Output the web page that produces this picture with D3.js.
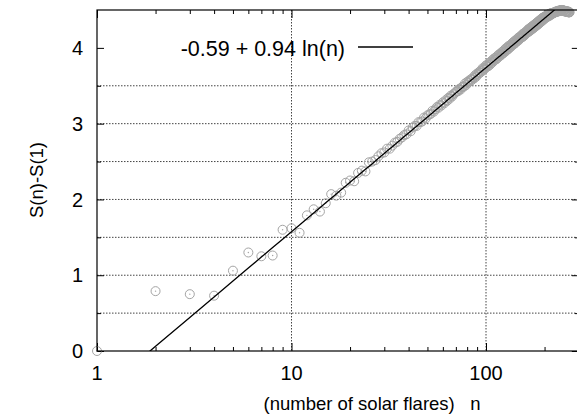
<!DOCTYPE html>
<html>
<head>
  <script src="https://d3js.org/d3.v7.min.js"></script>
  <style>
    body { margin: 0; background: #fff; }
    #chart { width: 577px; height: 418px; }
    text { font-family: "Liberation Sans", Arial, Helvetica, sans-serif; fill: #000; }
    .tickLabel { font-size: 20px; }
    .keyLabel { font-size: 21.5px; }
    .axisLabel { font-size: 18.5px; white-space: pre; }
    .grid { stroke: #444; stroke-width: 1; stroke-dasharray: 1.5,1.5; }
  </style>
</head>
<body>
  <div id="chart"></div>
  <script>
    /*
    DATA: S(n)-S(1) against the number of solar flares n
    */
    const firstPoints = [0, 0.79, 0.75, 0.73, 1.06, 1.30, 1.25, 1.26, 1.60, 1.62,
                         1.56, 1.79, 1.87, 1.84, 1.95, 2.07, 2.05, 2.09, 2.22, 2.25,
                         2.24, 2.35, 2.38, 2.37, 2.49, 2.50, 2.52];
    const densePoints = [
      2.57, 2.61, 2.62, 2.67, 2.67, 2.71, 2.75, 2.76, 2.80, 2.82, 2.85, 2.86,
      2.91, 2.90, 2.95, 2.97, 2.97, 3.02, 3.02, 3.03, 3.08, 3.07,
      3.11, 3.12, 3.13, 3.17, 3.16, 3.19, 3.22, 3.21, 3.25, 3.24,
      3.28, 3.27, 3.31, 3.30, 3.34, 3.33, 3.37, 3.36, 3.39, 3.40,
      3.42, 3.43, 3.43, 3.46, 3.45, 3.48, 3.49, 3.49, 3.53, 3.51,
      3.55, 3.54, 3.57, 3.56, 3.59, 3.58, 3.61, 3.60, 3.64, 3.62,
      3.66, 3.65, 3.68, 3.67, 3.70, 3.69, 3.73, 3.71, 3.74, 3.73,
      3.77, 3.75, 3.78, 3.76, 3.80, 3.78, 3.82, 3.80, 3.84, 3.82,
      3.86, 3.84, 3.87, 3.85, 3.89, 3.87, 3.91, 3.89, 3.92, 3.90,
      3.94, 3.92, 3.95, 3.93, 3.97, 3.95, 3.99, 3.96, 4.00, 3.98,
      4.02, 3.99, 4.03, 4.01, 4.04, 4.02, 4.06, 4.04, 4.07, 4.05,
      4.09, 4.06, 4.10, 4.08, 4.11, 4.09, 4.13, 4.10, 4.14, 4.12,
      4.15, 4.13, 4.16, 4.14, 4.18, 4.15, 4.19, 4.16, 4.20, 4.18,
      4.21, 4.19, 4.22, 4.20, 4.24, 4.21, 4.25, 4.22, 4.26, 4.23,
      4.27, 4.24, 4.28, 4.25, 4.29, 4.26, 4.30, 4.27, 4.31, 4.28,
      4.32, 4.29, 4.33, 4.30, 4.34, 4.31, 4.35, 4.32, 4.36, 4.33,
      4.37, 4.34, 4.38, 4.35, 4.39, 4.36, 4.40, 4.37, 4.40, 4.38,
      4.41, 4.39, 4.42, 4.40, 4.42, 4.41, 4.43, 4.41, 4.44, 4.42,
      4.44, 4.42, 4.45, 4.43, 4.45, 4.44, 4.46, 4.44, 4.46, 4.45,
      4.46, 4.46, 4.46, 4.46, 4.47, 4.47, 4.47, 4.47, 4.47, 4.48,
      4.48, 4.48, 4.48, 4.48, 4.48, 4.49, 4.49, 4.49, 4.49, 4.49,
      4.49, 4.49, 4.49, 4.50, 4.50, 4.50, 4.50, 4.50, 4.49, 4.49,
      4.49, 4.49, 4.49, 4.49, 4.49, 4.48, 4.48, 4.48, 4.48, 4.48,
      4.48, 4.48, 4.48, 4.48, 4.48, 4.47, 4.47, 4.47, 4.47, 4.47
    ];
    const values = firstPoints.concat(densePoints);
    const points = values.map(function(v, i) { return {n: i + 1, s: v}; });

    // fit: a + b ln(n)
    const fitA = -0.59;
    const fitB = 0.94;
    const fitLabel = "-0.59 + 0.94 ln(n)";

    const xTickLabels = [1, 10, 100];
    const xMinorTicks = [2, 3, 4, 5, 6, 7, 8, 9, 20, 30, 40, 50, 60, 70, 80, 90, 200];
    const yTickLabels = [0, 1, 2, 3, 4];
    const yMinorTicks = [0.5, 1.5, 2.5, 3.5];
    const xGrid = [10, 100];
    const yGrid = [0.5, 1, 1.5, 2, 2.5, 3, 3.5];

    /*
    SVG + SCALES
    */
    const width = 577, height = 418;
    const svg = d3.select("#chart").append("svg")
      .attr("width", width)
      .attr("height", height);

    const plotLeft = 97, plotTop = 10, plotBottom = 351;
    const decade = 194.5;
    const xScale = d3.scaleLog()
      .domain([1, 300])
      .range([plotLeft, plotLeft + Math.log10(300) * decade]);
    const plotRight = xScale(300);

    const yScale = d3.scaleLinear()
      .domain([0, 4.5])
      .range([plotBottom, plotTop]);

    /*
    GRID
    */
    svg.selectAll(".hgrid").data(yGrid).enter().append("line")
      .attr("class", "grid")
      .attr("x1", plotLeft).attr("x2", plotRight)
      .attr("y1", function(d) { return yScale(d); })
      .attr("y2", function(d) { return yScale(d); });

    svg.selectAll(".vgrid").data(xGrid).enter().append("line")
      .attr("class", "grid")
      .attr("y1", plotTop).attr("y2", plotBottom)
      .attr("x1", function(d) { return xScale(d); })
      .attr("x2", function(d) { return xScale(d); });

    /*
    TICKS (inward, on all four sides)
    */
    function noDomain(g) { g.select(".domain").remove(); g.selectAll("line").attr("stroke", "#000"); }

    svg.append("g").attr("transform", `translate(0,${plotBottom})`)
      .call(d3.axisBottom(xScale).tickValues(xMinorTicks).tickSize(-4).tickFormat(""))
      .call(noDomain);
    svg.append("g").attr("transform", `translate(0,${plotBottom})`)
      .call(d3.axisBottom(xScale).tickValues(xTickLabels).tickSize(-8).tickFormat(""))
      .call(noDomain);
    svg.append("g").attr("transform", `translate(0,${plotTop})`)
      .call(d3.axisTop(xScale).tickValues(xMinorTicks).tickSize(-4).tickFormat(""))
      .call(noDomain);
    svg.append("g").attr("transform", `translate(0,${plotTop})`)
      .call(d3.axisTop(xScale).tickValues(xTickLabels).tickSize(-8).tickFormat(""))
      .call(noDomain);

    svg.append("g").attr("transform", `translate(${plotLeft},0)`)
      .call(d3.axisLeft(yScale).tickValues(yTickLabels).tickSize(-7).tickFormat(""))
      .call(noDomain);
    svg.append("g").attr("transform", `translate(${plotLeft},0)`)
      .call(d3.axisLeft(yScale).tickValues(yMinorTicks).tickSize(-4).tickFormat(""))
      .call(noDomain);
    svg.append("g").attr("transform", `translate(${plotRight},0)`)
      .call(d3.axisRight(yScale).tickValues(yTickLabels).tickSize(-7).tickFormat(""))
      .call(noDomain);
    svg.append("g").attr("transform", `translate(${plotRight},0)`)
      .call(d3.axisRight(yScale).tickValues(yMinorTicks).tickSize(-4).tickFormat(""))
      .call(noDomain);

    /*
    TICK LABELS
    */
    svg.selectAll(".xlab").data(xTickLabels).enter().append("text")
      .attr("class", "tickLabel")
      .attr("x", function(d) { return xScale(d); })
      .attr("y", 380)
      .attr("text-anchor", "middle")
      .text(function(d) { return d; });

    svg.selectAll(".ylab").data(yTickLabels).enter().append("text")
      .attr("class", "tickLabel")
      .attr("x", 83)
      .attr("y", function(d) { return yScale(d); })
      .attr("dy", "0.36em")
      .attr("text-anchor", "end")
      .text(function(d) { return d; });

    /*
    AXIS LABELS
    */
    svg.append("text")
      .attr("class", "axisLabel")
      .attr("x", 372)
      .attr("y", 410)
      .attr("text-anchor", "middle")
      .text("(number of solar flares)   n");

    svg.append("text")
      .attr("class", "axisLabel")
      .attr("transform", "rotate(-90)")
      .attr("x", -180)
      .attr("y", 43)
      .attr("text-anchor", "middle")
      .text("S(n)-S(1)");

    /*
    FIT LINE (clipped to the plot box)
    */
    svg.append("clipPath").attr("id", "box")
      .append("rect")
      .attr("x", plotLeft).attr("y", plotTop)
      .attr("width", plotRight - plotLeft).attr("height", plotBottom - plotTop);

    const fitN = d3.range(1, 301);
    const fitLine = d3.line()
      .x(function(n) { return xScale(n); })
      .y(function(n) { return yScale(fitA + fitB * Math.log(n)); });

    /*
    DATA POINTS
    */
    const pts = svg.append("g");
    pts.selectAll("circle.ring").data(points).enter().append("circle")
      .attr("class", "ring")
      .attr("cx", function(d) { return xScale(d.n); })
      .attr("cy", function(d) { return yScale(d.s); })
      .attr("r", 4.5)
      .attr("fill", "none")
      .attr("stroke", "#a4a4a4")
      .attr("stroke-width", 1);
    pts.selectAll("circle.dot").data(points).enter().append("circle")
      .attr("class", "dot")
      .attr("cx", function(d) { return xScale(d.n); })
      .attr("cy", function(d) { return yScale(d.s); })
      .attr("r", 0.7)
      .attr("fill", "#a4a4a4");

    svg.append("path")
      .datum(fitN)
      .attr("clip-path", "url(#box)")
      .attr("d", fitLine)
      .attr("fill", "none")
      .attr("stroke", "#000")
      .attr("stroke-width", 1.3);

    /*
    FRAME
    */
    svg.append("rect")
      .attr("x", plotLeft).attr("y", plotTop)
      .attr("width", plotRight - plotLeft).attr("height", plotBottom - plotTop)
      .attr("fill", "none")
      .attr("stroke", "#000")
      .attr("stroke-width", 1.2);

    /*
    KEY
    */
    svg.append("text")
      .attr("class", "keyLabel")
      .attr("x", 345)
      .attr("y", 48)
      .attr("dy", "0.36em")
      .attr("text-anchor", "end")
      .text(fitLabel);
    svg.append("line")
      .attr("x1", 358).attr("x2", 413)
      .attr("y1", 47).attr("y2", 47)
      .attr("stroke", "#000")
      .attr("stroke-width", 1.3);
  </script>
</body>
</html>
